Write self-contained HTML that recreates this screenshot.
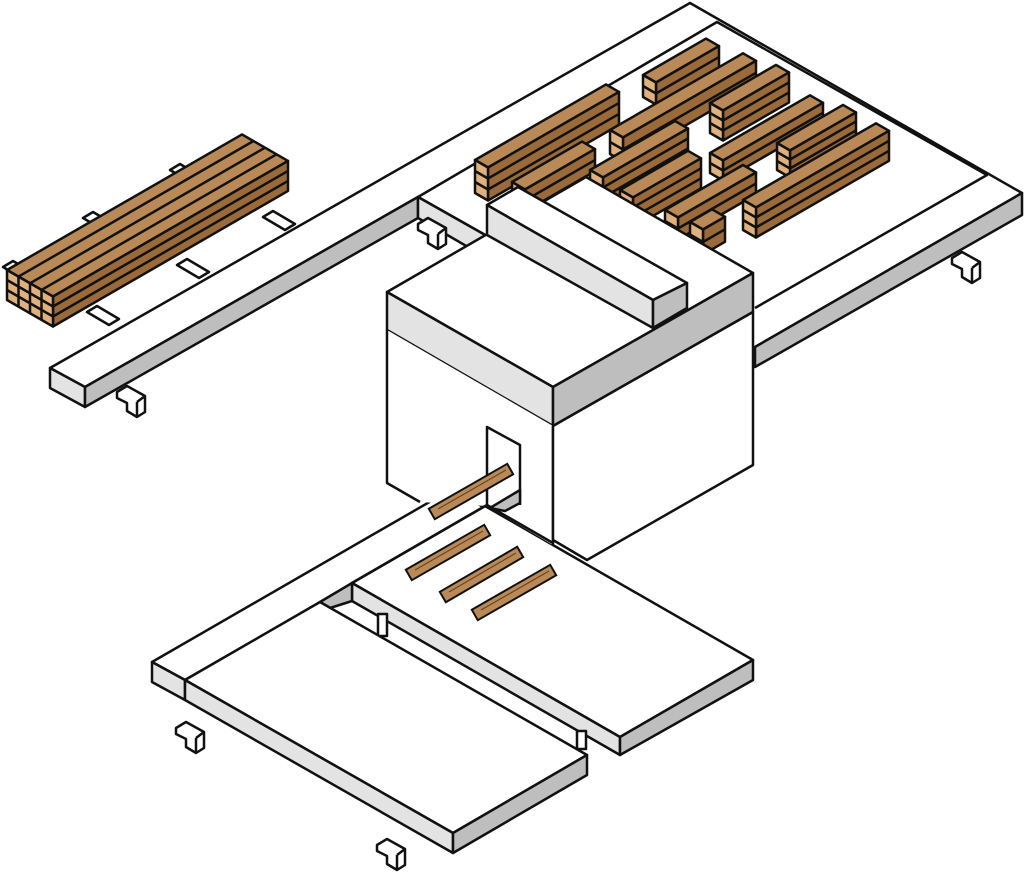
<!DOCTYPE html>
<html><head><meta charset="utf-8"><style>html,body{margin:0;padding:0;background:#fff}svg{display:block}</style></head>
<body>
<svg id="s" xmlns="http://www.w3.org/2000/svg" width="1024" height="873" viewBox="0 0 1024 873" stroke="#111" stroke-width="2.5" stroke-linejoin="round">
<polygon points="50,368 690,3 1022,193 755,347 716,369 487,236 418,197 85,387" fill="#fff"/>
<polyline points="418,197 717,22 987,175 755,308" fill="none"/>
<polygon points="50,368 85,387 85,407 50,388" fill="#e3e3e3"/>
<polygon points="85,387 418,197 418,218 85,407" fill="#bebebe"/>
<polygon points="418,197 487,236 487,258 418,218" fill="#e3e3e3"/>
<polygon points="1022,193 1022,215 755,367 755,347" fill="#bebebe"/>
<g id="legs" fill="#fff"></g>
<g id="bundle"></g>
<g id="stacks"></g>
<polygon points="152,662 452,489 485,508 185,680" fill="#fff"/>
<polygon points="152,662 185,680 185,700 152,682" fill="#e3e3e3"/>
<polygon points="352,583 485,506 753,660 620,737" fill="#fff"/>
<polygon points="352,583 620,737 620,755 352,601" fill="#e3e3e3"/>
<polygon points="620,737 753,660 753,680 620,755" fill="#bebebe"/>
<polygon points="320,602 352,583 352,601 330,608" fill="#bebebe"/>
<rect x="378" y="614" width="9" height="22" fill="#fff"/>
<rect x="577" y="731" width="9" height="18" fill="#fff"/>
<polygon points="185,680 320,602 587,755 453,833" fill="#fff"/>
<polygon points="185,680 453,833 453,853 185,700" fill="#e3e3e3"/>
<polygon points="453,833 587,755 587,775 453,853" fill="#bebebe"/>
<polygon points="387,292 586,177 753,273 553,387" fill="#fff"/>
<polygon points="387,292 553,387 553,426 387,330" fill="#e3e3e3"/>
<polygon points="553,387 753,273 753,312 553,426" fill="#bebebe"/>
<polygon points="387,330 553,426 553,545 487,506 420,502 387,483" fill="#fff" stroke="none"/>
<polyline points="387,330 387,483 420,502" fill="none"/>
<polyline points="553,426 553,545" fill="none"/>
<polygon points="553,426 753,312 753,465 587,560 553,540" fill="#fff"/>
<polyline points="487,505 487,427 520,445 520,505" fill="none"/>
<polygon points="490,508 520,490 520,503 505,511" fill="#bebebe"/>
<polyline points="352,583 487,505 553,543" fill="none"/>
<polygon points="487,205 518,187 687,283 653,300" fill="#fff"/>
<polygon points="487,205 653,300 653,328 487,235" fill="#e3e3e3"/>
<polygon points="653,300 687,283 687,308 653,328" fill="#bebebe"/>
<g id="pieces"></g>
</svg>
<script>
var NS="http://www.w3.org/2000/svg";
function el(p,tag,a){var e=document.createElementNS(NS,tag);for(var k in a)e.setAttribute(k,a[k]);p.appendChild(e);return e;}
function pts(a){return a.map(function(q){return q[0].toFixed(1)+","+q[1].toFixed(1)}).join(" ");}
var K=0.577;
function box(g,x,y,L,W,H,n,cols,top,side,end){
  var P=[x,y],U=[L,-K*L],V=[W,K*W];
  function a(p,q){return [p[0]+q[0],p[1]+q[1]];}
  var PU=a(P,U),PV=a(P,V),PUV=a(PU,V);
  el(g,"polygon",{points:pts([P,PU,PUV,PV]),fill:top});
  el(g,"polygon",{points:pts([PV,PUV,[PUV[0],PUV[1]+H],[PV[0],PV[1]+H]]),fill:side});
  el(g,"polygon",{points:pts([P,PV,[PV[0],PV[1]+H],[P[0],P[1]+H]]),fill:end});
  for(var i=1;i<n;i++){var d=H*i/n;
    el(g,"polyline",{points:pts([[P[0],P[1]+d],[PV[0],PV[1]+d],[PUV[0],PUV[1]+d]]),fill:"none"});}
  for(var j=1;j<cols;j++){var f=j/cols;var A=[P[0]+V[0]*f,P[1]+V[1]*f];
    el(g,"polyline",{points:pts([[A[0],A[1]+H],A,[A[0]+U[0],A[1]+U[1]]]),fill:"none"});}
}
var T="#b98a57",S="#9a6a3b",E="#e0b17d";
var bg=document.getElementById("bundle");
[[3,267],[83,218],[170,170],[263,217],[177,265],[87,312]].forEach(function(t){
  var x=t[0],y=t[1];el(bg,"polygon",{points:pts([[x,y],[x+10,y-6],[x+32,y+7],[x+22,y+13]]),fill:"#fff"});});
box(bg,7,270,235,46,30,3,4,T,S,E);
var sg=document.getElementById("stacks");
var st=[[643,75,63,13,22,2],[610,130,133,13,24,2],[475,160,131,13,33,3],[710,103,66,13,30,3],[512,182,70,13,22,2],
[590,170,85,13,30,3],[710,153,100,13,20,2],[620,190,68,13,30,3],[777,143,66,13,27,3],[665,210,78,13,22,2],[690,222,22,13,25,2],[743,200,133,13,30,3]];
st.sort(function(a,b){return (K*a[0]+a[1])-(K*b[0]+b[1]);});
st.forEach(function(s){box(sg,s[0],s[1],s[2],s[3],s[4],s[5],1,T,S,E);});
var lg=document.getElementById("legs");
function leg(x,y){el(lg,"polygon",{points:pts([[x,y],[x+10,y-6],[x+28,y+4],[x+28,y+20],[x+20,y+25],[x+10,y+19],[x+10,y+11],[x,y+6]]),fill:"#fff"});
 el(lg,"polyline",{points:pts([[x+20,y+10],[x+28,y+4]]),fill:"none"});el(lg,"polyline",{points:pts([[x+20,y+10],[x+20,y+25]]),fill:"none"});}
leg(117,392);leg(418,224);leg(952,258);leg(176,728);leg(377,845);
var pg=document.getElementById("pieces");
[[414,572,482,533],[448,594,515,555],[480,612,548,573],[437,511,505,472]].forEach(function(p){
  el(pg,"line",{x1:p[0],y1:p[1],x2:p[2],y2:p[3],stroke:"#111","stroke-width":14,"stroke-linecap":"square"});
  el(pg,"line",{x1:p[0],y1:p[1],x2:p[2],y2:p[3],stroke:"#b98a57","stroke-width":10,"stroke-linecap":"square"});
  el(pg,"line",{x1:p[0]+1,y1:p[1]-2,x2:p[2]+1,y2:p[3]-2,stroke:"#6b4520","stroke-width":1.2});
});
</script>
</body></html>
